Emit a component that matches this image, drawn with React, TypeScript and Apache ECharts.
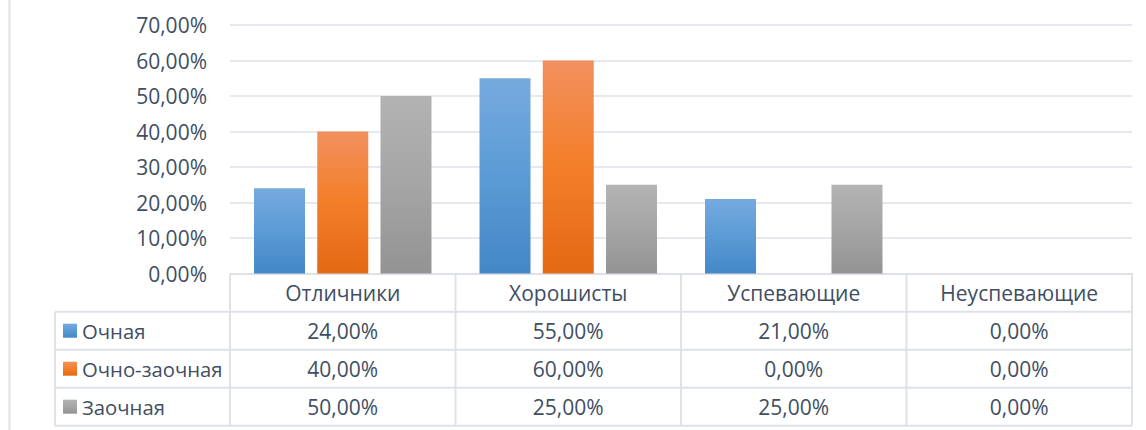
import React, { useEffect, useRef } from 'react';
import * as echarts from 'echarts';

const categories = ['Отличники', 'Хорошисты', 'Успевающие', 'Неуспевающие'];
const seriesNames = ['Очная', 'Очно-заочная', 'Заочная'];
const ochnaya = [0.24, 0.55, 0.21, 0.0];
const ochnoZaochnaya = [0.4, 0.6, 0.0, 0.0];
const zaochnaya = [0.5, 0.25, 0.25, 0.0];
const yMin = 0;
const yMax = 0.7;
const yStep = 0.1;

const seriesData = [ochnaya, ochnoZaochnaya, zaochnaya];

const gradients = [
  ['#76AADF', '#5B9BD5', '#4487C7'],
  ['#F1905E', '#F47E28', '#E36913'],
  ['#B3B3B3', '#A5A5A5', '#939393'],
];

const TEXT = '#404E63';
const LINE = '#DEE2E8';
const FONT = '"Open Sans", "Noto Sans", sans-serif';
const FS = 21;
const FS_LEGEND = 20.3;

const fmt = (v: number) => (v * 100).toFixed(2).replace('.', ',') + '%';

const grad = (c: string[]) =>
  new echarts.graphic.LinearGradient(0, 0, 0, 1, [
    { offset: 0, color: c[0] },
    { offset: 0.5, color: c[1] },
    { offset: 1, color: c[2] },
  ]);

const GRID = { left: 230, right: 14, top: 25, bottom: 156.5 };

export default function App() {
  const ref = useRef<HTMLDivElement>(null);
  useEffect(() => {
    if (!ref.current) return;
    const chart = echarts.init(ref.current, null, { renderer: 'svg' });
    chart.setOption({
      animation: false,
      backgroundColor: '#ffffff',
      grid: { ...GRID, containLabel: false },
      xAxis: {
        type: 'category',
        data: categories,
        axisLine: { show: true, lineStyle: { color: LINE, width: 2 } },
        axisTick: { show: false },
        axisLabel: { show: false },
        splitLine: { show: false },
      },
      yAxis: {
        type: 'value',
        min: yMin,
        max: yMax,
        interval: yStep,
        axisLine: { show: false },
        axisTick: { show: false },
        axisLabel: {
          formatter: (v: number) => fmt(v),
          color: TEXT,
          fontFamily: FONT,
          fontSize: FS,
          margin: 23,
        },
        splitLine: { lineStyle: { color: LINE, width: 1.5 } },
      },
      series: seriesNames.map((name, i) => ({
        name,
        type: 'bar',
        data: seriesData[i],
        barWidth: 51,
        barGap: '24%',
        itemStyle: { color: grad(gradients[i]) },
      })),
    });

    const w = chart.getWidth();
    const plotLeft = GRID.left;
    const plotRight = w - GRID.right;
    const catW = (plotRight - plotLeft) / categories.length;
    const tableTop = 274;
    const headerBottom = 311.7;
    const rowH = 38;
    const tableLeft = 55;
    const tableBottom = headerBottom + rowH * seriesNames.length;

    const g: any[] = [];
    const line = (x1: number, y1: number, x2: number, y2: number) =>
      g.push({
        type: 'line',
        shape: { x1, y1, x2, y2 },
        style: { stroke: LINE, lineWidth: 2 },
        silent: true,
      });

    // outer left border of the chart area
    line(9.5, 0, 9.5, 430);
    // table horizontal lines
    line(plotLeft, tableTop, plotRight, tableTop);
    for (let r = 0; r <= seriesNames.length; r++) {
      const y = headerBottom + r * rowH;
      line(tableLeft, y, plotRight, y);
    }
    // table vertical lines
    line(tableLeft, headerBottom, tableLeft, tableBottom);
    for (let c = 0; c <= categories.length; c++) {
      const x = plotLeft + c * catW;
      line(x, tableTop, x, tableBottom);
    }
    // header + values
    categories.forEach((cat, c) => {
      const cx = chart.convertToPixel({ xAxisIndex: 0 }, cat) as number;
      g.push({
        type: 'text',
        x: cx,
        y: (tableTop + headerBottom) / 2,
        style: {
          text: cat,
          fill: TEXT,
          font: `${FS}px ${FONT}`,
          textAlign: 'center',
          textVerticalAlign: 'middle',
        },
      });
      seriesNames.forEach((_, r) => {
        g.push({
          type: 'text',
          x: cx,
          y: headerBottom + r * rowH + rowH / 2,
          style: {
            text: fmt(seriesData[r][c]),
            fill: TEXT,
            font: `${FS}px ${FONT}`,
            textAlign: 'center',
            textVerticalAlign: 'middle',
          },
        });
      });
    });
    // legend keys
    seriesNames.forEach((name, r) => {
      const cy = headerBottom + r * rowH + rowH / 2;
      g.push({
        type: 'rect',
        shape: { x: 63, y: cy - 7, width: 14, height: 14 },
        style: { fill: grad(gradients[r]) },
      });
      g.push({
        type: 'text',
        x: 82,
        y: cy,
        style: {
          text: name,
          fill: TEXT,
          font: `${FS_LEGEND}px ${FONT}`,
          textAlign: 'left',
          textVerticalAlign: 'middle',
        },
      });
    });

    chart.setOption({ graphic: g });
    return () => chart.dispose();
  }, []);

  return (
    <div
      ref={ref}
      style={{ position: 'fixed', left: 0, top: 0, width: 1146, height: 430 }}
    />
  );
}
